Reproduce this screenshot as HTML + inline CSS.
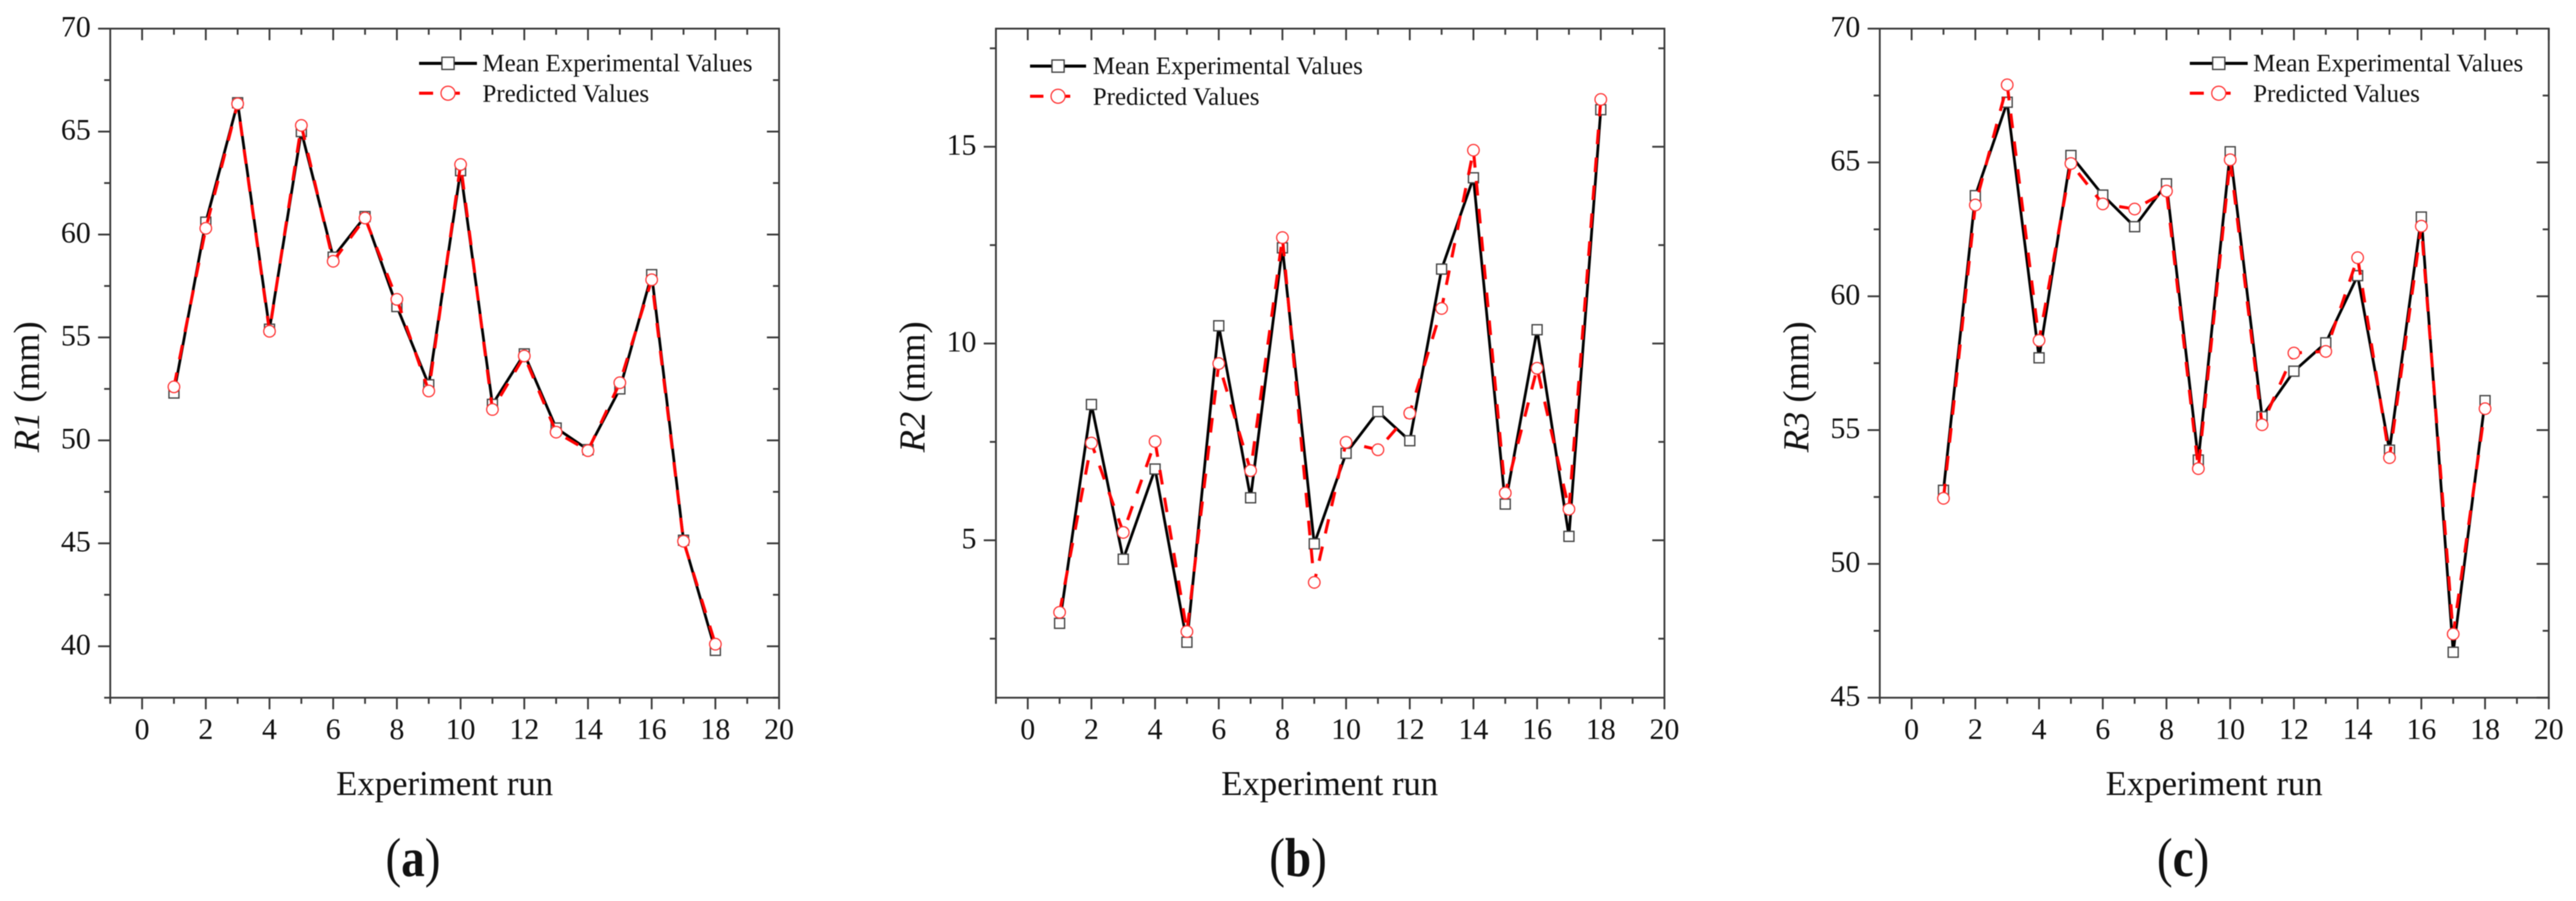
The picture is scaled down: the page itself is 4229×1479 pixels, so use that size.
<!DOCTYPE html>
<html lang="en">
<head>
<meta charset="utf-8">
<title>Experimental vs predicted values for R1, R2, R3</title>
<style>
  html, body { margin: 0; padding: 0; background: #fff; }
  #figure { display: block; width: 4229px; height: 1479px; filter: blur(0.7px); }
  text { font-family: "Liberation Serif", serif; fill: #111; }
  .tick-label { font-size: 49px; }
  .axis-title { font-size: 57px; }
  .y-title { font-size: 60px; }
  .legend-text { font-size: 41px; }
  .sub-label { font-size: 90px; }
</style>
</head>
<body>
<svg id="figure" xmlns="http://www.w3.org/2000/svg" width="4229" height="1479" viewBox="0 0 4229 1479">
  <rect x="0" y="0" width="4229" height="1479" fill="#fff"/>

  <g id="panel-a"></g>
  <g id="panel-b"></g>
  <g id="panel-c"></g>

  <g>
    <text class="axis-title" x="730" y="1305" text-anchor="middle">Experiment run</text>
    <text class="y-title" transform="translate(64 635) rotate(-90)" text-anchor="middle"><tspan font-style="italic">R1</tspan> (mm)</text>
    <text class="sub-label" transform="translate(678 1438) scale(0.86 1)" text-anchor="middle">(<tspan font-weight="bold">a</tspan>)</text>
  </g>
  <g>
    <text class="axis-title" x="2183" y="1305" text-anchor="middle">Experiment run</text>
    <text class="y-title" transform="translate(1518 635) rotate(-90)" text-anchor="middle"><tspan font-style="italic">R2</tspan> (mm)</text>
    <text class="sub-label" transform="translate(2131 1438) scale(0.86 1)" text-anchor="middle">(<tspan font-weight="bold">b</tspan>)</text>
  </g>
  <g>
    <text class="axis-title" x="3635" y="1305" text-anchor="middle">Experiment run</text>
    <text class="y-title" transform="translate(2969 635) rotate(-90)" text-anchor="middle"><tspan font-style="italic">R3</tspan> (mm)</text>
    <text class="sub-label" transform="translate(3584 1438) scale(0.86 1)" text-anchor="middle">(<tspan font-weight="bold">c</tspan>)</text>
  </g>

  <g>
    <g>
      <line x1="688" y1="104" x2="783" y2="104" stroke="#000" stroke-width="5"/>
      <rect x="725.5" y="94" width="20" height="20" fill="#fff" stroke="#444" stroke-width="2.2"/>
      <text class="legend-text" x="792" y="117">Mean Experimental Values</text>
    </g>
    <g>
      <line x1="688" y1="153" x2="711" y2="153" stroke="#f00" stroke-width="5"/>
      <line x1="747" y1="153" x2="755" y2="153" stroke="#f00" stroke-width="5"/>
      <circle cx="735.5" cy="153" r="11.5" fill="#fff" stroke="#f33" stroke-width="2"/>
      <text class="legend-text" x="792" y="167">Predicted Values</text>
    </g>
  </g>
  <g>
    <g>
      <line x1="1691" y1="108.5" x2="1783" y2="108.5" stroke="#000" stroke-width="5"/>
      <rect x="1727" y="98.5" width="20" height="20" fill="#fff" stroke="#444" stroke-width="2.2"/>
      <text class="legend-text" x="1794" y="121.5">Mean Experimental Values</text>
    </g>
    <g>
      <line x1="1691" y1="158" x2="1713" y2="158" stroke="#f00" stroke-width="5"/>
      <line x1="1749" y1="158" x2="1757" y2="158" stroke="#f00" stroke-width="5"/>
      <circle cx="1737" cy="158" r="11.5" fill="#fff" stroke="#f33" stroke-width="2"/>
      <text class="legend-text" x="1794" y="172">Predicted Values</text>
    </g>
  </g>
  <g>
    <g>
      <line x1="3595" y1="104" x2="3690" y2="104" stroke="#000" stroke-width="5"/>
      <rect x="3632.5" y="94" width="20" height="20" fill="#fff" stroke="#444" stroke-width="2.2"/>
      <text class="legend-text" x="3699" y="117">Mean Experimental Values</text>
    </g>
    <g>
      <line x1="3595" y1="153" x2="3618" y2="153" stroke="#f00" stroke-width="5"/>
      <line x1="3654" y1="153" x2="3662" y2="153" stroke="#f00" stroke-width="5"/>
      <circle cx="3642.5" cy="153" r="11.5" fill="#fff" stroke="#f33" stroke-width="2"/>
      <text class="legend-text" x="3699" y="167">Predicted Values</text>
    </g>
  </g>
</svg>

<script>
// ---- data ----
const runs = [1,2,3,4,5,6,7,8,9,10,11,12,13,14,15,16,17,18];
const xMajorTicks = [0,2,4,6,8,10,12,14,16,18,20];
const xMinorTicks = [-1,1,3,5,7,9,11,13,15,17,19];

const r1Mean = [52.3,60.6,66.4,55.4,65.0,58.9,60.87,56.5,52.7,63.1,51.75,54.2,50.6,49.55,52.5,58.05,45.15,39.8];
const r1Pred = [52.6,60.3,66.35,55.3,65.3,58.7,60.8,56.85,52.4,63.4,51.5,54.1,50.4,49.5,52.8,57.8,45.1,40.1];
const r1MajorTicks = [40,45,50,55,60,65,70];
const r1MinorTicks = [37.5,42.5,47.5,52.5,57.5,62.5,67.5];

const r2Mean = [2.89,8.45,4.52,6.81,2.41,10.45,6.08,12.43,4.91,7.21,8.27,7.53,11.89,14.21,5.92,10.35,5.1,15.94];
const r2Pred = [3.17,7.47,5.2,7.51,2.68,9.49,6.77,12.69,3.93,7.49,7.3,8.23,10.89,14.91,6.2,9.37,5.79,16.2];
const r2MajorTicks = [5,10,15];
const r2MinorTicks = [2.5,7.5,12.5,17.5];

const r3Mean = [52.75,63.76,67.25,57.7,65.26,63.78,62.6,64.2,53.88,65.4,55.5,57.2,58.26,60.77,54.25,62.96,46.7,56.1];
const r3Pred = [52.45,63.41,67.9,58.35,64.96,63.45,63.26,63.93,53.56,65.1,55.2,57.88,57.94,61.44,53.97,62.62,47.38,55.8];
const r3MajorTicks = [45,50,55,60,65,70];
const r3MinorTicks = [47.5,52.5,57.5,62.5,67.5];

const xMin = -1, xMax = 20;

const SVG_NS = 'http://www.w3.org/2000/svg';
const AXIS_COLOR = '#3a3a3a';
const TOP = 47, BOTTOM = 1145.3;

function make(tag, attrs, parent) {
  const node = document.createElementNS(SVG_NS, tag);
  for (const k in attrs) node.setAttribute(k, attrs[k]);
  parent.appendChild(node);
  return node;
}

function drawTickX(g, sx, v, len, top) {
  const t = make('line', { x1: sx(v), x2: sx(v), y1: top ? TOP : BOTTOM, y2: top ? TOP + len : BOTTOM + len, stroke: AXIS_COLOR, 'stroke-width': 3 }, g);
  
  
}

function drawTickY(g, x, v, sy, dir, len) {
  const t = make('line', { x1: x, x2: x + dir * len, y1: sy(v), y2: sy(v), stroke: AXIS_COLOR, 'stroke-width': 3 }, g);
  
  
}

function drawPanel(id, left, right, yMin, yMax, majors, minors, mean, pred) {
  const g = document.getElementById(id);
  const sx = v => left + (v - xMin) / (xMax - xMin) * (right - left);
  const sy = v => BOTTOM - (v - yMin) / (yMax - yMin) * (BOTTOM - TOP);

  // frame
  const frame = make('rect', { x: left, y: TOP, width: right - left, height: BOTTOM - TOP, fill: 'none', stroke: AXIS_COLOR, 'stroke-width': 3 }, g);
  
  

  // x ticks
  xMajorTicks.forEach(v => {
    drawTickX(g, sx, v, 19, false);
    drawTickX(g, sx, v, 19, true);
    const lab = make('text', { x: sx(v), y: 1213, 'text-anchor': 'middle', class: 'tick-label' }, g);
    lab.textContent = String(v);
    
    
  });
  xMinorTicks.forEach(v => {
    drawTickX(g, sx, v, 10, false);
    drawTickX(g, sx, v, 10, true);
  });

  // y ticks
  majors.forEach(v => {
    drawTickY(g, left, v, sy, -1, 20);
    drawTickY(g, right, v, sy, -1, 20);
    const lab = make('text', { x: left - 32, y: sy(v) + 13, 'text-anchor': 'end', class: 'tick-label' }, g);
    lab.textContent = String(v);
    
    
  });
  minors.forEach(v => {
    drawTickY(g, left, v, sy, -1, 10);
    drawTickY(g, right, v, sy, -1, 10);
  });

  // mean series
  const meanLine = make('polyline', { points: runs.map((r, i) => sx(r) + ',' + sy(mean[i])).join(' '), fill: 'none', stroke: '#000', 'stroke-width': 4.5, 'stroke-linejoin': 'miter' }, g);
  
  

  runs.forEach((r, i) => {
    const m = make('rect', { x: sx(r) - 8.2, y: sy(mean[i]) - 8.2, width: 16.4, height: 16.4, fill: '#fff', stroke: '#444', 'stroke-width': 2.2 }, g);
    
    
  });

  // predicted series
  const predLine = make('polyline', { points: runs.map((r, i) => sx(r) + ',' + sy(pred[i])).join(' '), fill: 'none', stroke: '#f00', 'stroke-width': 5, 'stroke-dasharray': '24 22' }, g);
  
  

  runs.forEach((r, i) => {
    const c = make('circle', { cx: sx(r), cy: sy(pred[i]), r: 9.5, fill: '#fff', stroke: '#f33', 'stroke-width': 2 }, g);
    
    
  });
}

drawPanel('panel-a', 181, 1279, 37.5, 70, r1MajorTicks, r1MinorTicks, r1Mean, r1Pred);
drawPanel('panel-b', 1635, 2732.5, 1, 18, r2MajorTicks, r2MinorTicks, r2Mean, r2Pred);
drawPanel('panel-c', 3086, 4184.3, 45, 70, r3MajorTicks, r3MinorTicks, r3Mean, r3Pred);
</script>
</body>
</html>
